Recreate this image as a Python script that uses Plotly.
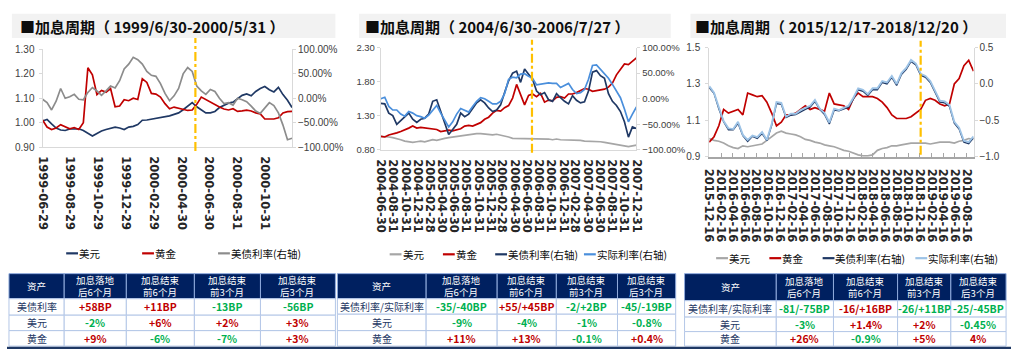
import pandas as pd
import plotly.graph_objects as go

W, H = 1018, 355
def px(x): return x / W
def py(y): return 1 - y / H

NAVY = "#1f3864"; RED = "#c00000"; GRAY = "#8c8c8c"; LGRAY = "#a6a6a6"
BLUE = "#4a8fdc"; LBLUE = "#9dc3e6"; ORANGE = "#ffc000"; AX = "#d9d9d9"
TGREEN = "#00b050"; TRED = "#c00000"
CJK = "Noto Sans CJK SC"

# ---------------- Panel 1: 1999/6/30-2000/5/31 ----------------
p1_dates = pd.date_range("1999-06-29", periods=56, freq="10D")
p1_usd = [1.007,1.013,0.995,0.978,0.970,0.968,0.974,0.976,0.975,0.968,
          0.957,0.945,0.956,0.966,0.972,0.978,0.982,0.978,0.972,0.982,
          0.985,0.992,1.010,1.011,1.014,1.018,1.023,1.026,1.028,1.034,
          1.040,1.053,1.068,1.082,1.065,1.052,1.040,1.040,1.046,1.062,
          1.070,1.080,1.084,1.098,1.112,1.118,1.110,1.128,1.140,1.148,
          1.135,1.126,1.145,1.115,1.092,1.062]
p1_gold = [1.011,0.982,0.972,0.978,0.992,0.985,0.975,0.980,0.972,1.000,
           1.225,1.196,1.115,1.132,1.125,1.140,1.065,1.068,1.094,1.090,
           1.100,1.095,1.180,1.165,1.120,1.117,1.105,1.078,1.057,1.064,
           1.060,1.055,1.050,1.052,1.075,1.105,1.095,1.084,1.072,1.064,
           1.056,1.052,1.057,1.046,1.048,1.051,1.048,1.040,1.036,1.015,
           1.015,1.015,1.020,1.040,1.045,1.046]
p1_rate = [-0.02,-0.09,-0.24,-0.06,0.20,0.00,0.03,0.08,-0.02,-0.03,
           0.12,0.22,0.15,0.06,0.15,0.25,0.21,0.36,0.60,0.70,
           0.84,0.79,0.70,0.55,0.47,0.45,0.30,0.10,-0.05,0.05,
           0.20,0.50,0.63,0.55,0.25,0.15,0.08,0.18,0.14,0.00,
           -0.11,-0.09,-0.14,0.00,-0.03,-0.07,-0.16,-0.26,-0.31,-0.20,
           -0.09,-0.15,-0.30,-0.55,-0.85,-0.82]
p1_ticks = ["1999-06-29","1999-08-29","1999-10-29","1999-12-29","2000-02-29",
            "2000-04-30","2000-06-30","2000-08-31","2000-10-31"]
p1_end = "2000-05-31"

# ---------------- Panel 2: 2004/6/30-2006/7/27 ----------------
p2_dates = pd.date_range("2004-06-30", periods=65, freq="20D")
p2_usd = [1.00,1.00,0.99,0.98,0.97,0.95,0.93,0.92,0.91,0.92,
          0.93,0.92,0.93,0.95,0.94,0.96,0.97,0.98,0.99,0.99,
          1.00,1.01,1.02,1.03,1.04,1.04,1.03,1.03,1.02,1.03,
          1.02,1.01,0.99,0.97,0.97,0.96,0.97,0.97,0.96,0.97,
          0.97,0.96,0.96,0.95,0.96,0.95,0.95,0.94,0.95,0.94,
          0.94,0.93,0.93,0.92,0.92,0.92,0.91,0.90,0.90,0.89,
          0.88,0.86,0.85,0.86,0.87]
p2_gold = [1.00,0.99,1.02,1.03,1.05,1.07,1.09,1.12,1.15,1.12,
           1.13,1.12,1.11,1.10,1.10,1.07,1.08,1.09,1.08,1.10,
           1.11,1.15,1.16,1.15,1.17,1.20,1.25,1.28,1.34,1.38,
           1.37,1.42,1.45,1.56,1.76,1.60,1.46,1.60,1.62,1.58,
           1.63,1.50,1.53,1.52,1.57,1.58,1.56,1.62,1.62,1.64,
           1.67,1.70,1.69,1.66,1.67,1.68,1.69,1.72,1.78,1.90,
           1.98,2.06,2.05,2.10,2.15]
p2_rate = [-0.09,-0.10,-0.28,-0.33,-0.50,-0.42,-0.36,-0.28,-0.40,-0.46,
           -0.40,-0.38,-0.30,-0.05,-0.02,-0.25,-0.50,-0.70,-0.60,-0.50,
           -0.28,-0.35,-0.30,-0.20,-0.08,-0.02,-0.08,-0.18,-0.25,-0.22,
           -0.12,0.12,0.35,0.50,0.54,0.32,0.58,0.48,0.38,0.15,
           0.08,0.12,-0.02,-0.05,0.10,0.02,-0.05,-0.10,0.06,-0.03,
           -0.08,-0.06,0.15,0.52,0.55,0.45,0.40,0.10,-0.05,-0.13,
           -0.25,-0.45,-0.75,-0.55,-0.58]
p2_real = [0.00,0.03,-0.15,-0.22,-0.22,-0.30,-0.34,-0.25,-0.28,-0.33,
           -0.35,-0.38,-0.32,-0.22,-0.13,-0.28,-0.42,-0.55,-0.45,-0.30,
           -0.19,-0.22,-0.26,-0.15,-0.05,0.02,0.00,-0.05,-0.10,-0.10,
           -0.05,0.10,0.38,0.42,0.41,0.48,0.49,0.44,0.40,0.27,
           0.28,0.30,0.31,0.30,0.30,0.22,0.26,0.30,0.18,0.10,
           0.12,0.18,0.38,0.65,0.66,0.58,0.50,0.40,0.28,0.15,
           0.02,-0.20,-0.45,-0.30,-0.16]
p2_ticks = ["2004-06-30","2004-08-31","2004-10-31","2004-12-31","2005-02-28",
            "2005-04-30","2005-06-30","2005-08-31","2005-10-31","2005-12-31",
            "2006-02-28","2006-04-30","2006-06-30","2006-08-31","2006-10-31",
            "2006-12-31","2007-02-28","2007-04-30","2007-06-30","2007-08-31",
            "2007-10-31","2007-12-31"]
p2_end = "2006-07-27"

# ---------------- Panel 3: 2015/12/17-2018/12/20 ----------------
p3_dates = pd.date_range("2015-12-16", periods=56, freq="25D")
p3_usd = [1.00,0.99,0.985,0.975,0.96,0.95,0.945,0.96,0.955,0.96,
          0.965,0.97,0.99,1.01,1.03,1.04,1.03,1.025,1.02,1.01,
          0.995,0.99,0.98,0.975,0.965,0.96,0.955,0.945,0.935,0.93,
          0.92,0.91,0.905,0.905,0.91,0.935,0.945,0.95,0.96,0.96,
          0.965,0.97,0.975,0.975,0.975,0.975,0.97,0.975,0.98,0.98,
          0.98,0.975,0.985,0.99,1.00,0.995]
p3_gold = [0.98,1.01,1.07,1.16,1.14,1.15,1.16,1.13,1.25,1.24,
           1.23,1.235,1.20,1.14,1.07,1.09,1.13,1.13,1.14,1.16,
           1.18,1.16,1.17,1.16,1.15,1.25,1.19,1.185,1.18,1.16,
           1.22,1.25,1.23,1.23,1.23,1.22,1.20,1.17,1.13,1.11,
           1.11,1.11,1.12,1.14,1.16,1.21,1.22,1.21,1.19,1.18,
           1.19,1.30,1.33,1.40,1.43,1.37]
p3_rate = [-0.05,-0.13,-0.34,-0.52,-0.63,-0.63,-0.54,-0.71,-0.79,-0.72,
           -0.75,-0.68,-0.78,-0.57,-0.27,-0.28,-0.46,-0.43,-0.42,-0.38,
           -0.35,-0.32,-0.24,-0.35,-0.42,-0.55,-0.36,-0.37,-0.35,-0.32,
           -0.21,-0.08,-0.10,-0.16,-0.08,-0.08,0.02,0.00,0.09,-0.02,
           0.13,0.20,0.31,0.26,0.12,0.09,0.02,-0.11,-0.25,-0.26,
           -0.31,-0.54,-0.62,-0.80,-0.82,-0.74]
p3_real = [-0.03,-0.12,-0.32,-0.51,-0.61,-0.62,-0.52,-0.70,-0.77,-0.71,
           -0.73,-0.66,-0.77,-0.55,-0.25,-0.26,-0.45,-0.41,-0.41,-0.36,
           -0.33,-0.30,-0.22,-0.34,-0.40,-0.53,-0.34,-0.36,-0.33,-0.30,
           -0.19,-0.06,-0.08,-0.14,-0.06,-0.06,0.04,0.02,0.11,0.00,
           0.15,0.22,0.33,0.28,0.14,0.11,0.04,-0.09,-0.23,-0.24,
           -0.29,-0.52,-0.60,-0.78,-0.80,-0.72]
p3_ticks = ["2015-12-16","2016-02-16","2016-04-16","2016-06-16","2016-08-16",
            "2016-10-16","2016-12-16","2017-02-16","2017-04-16","2017-06-16",
            "2017-08-16","2017-10-16","2017-12-16","2018-02-16","2018-04-16",
            "2018-06-16","2018-08-16","2018-10-16","2018-12-16","2019-02-16",
            "2019-04-16","2019-06-16","2019-08-16"]
p3_end = "2018-12-20"

titles = ["■加息周期（ 1999/6/30-2000/5/31 ）",
          "■加息周期（ 2004/6/30-2006/7/27 ）",
          "■加息周期（ 2015/12/17-2018/12/20 ）"]

# ---------------- Tables ----------------
t_header = ["资产", "加息落地<br>后6个月", "加息结束<br>前6个月", "加息结束<br>前3个月", "加息结束<br>后3个月"]
t1_rows = ["美债利率", "美元", "黄金"]
t1_vals = [["+58BP", "-2%", "+9%"], ["+11BP", "+6%", "-6%"],
           ["-13BP", "+2%", "-7%"], ["-56BP", "+3%", "+3%"]]
t1_sign = [["R", "G", "R"], ["R", "R", "G"], ["G", "R", "G"], ["G", "R", "R"]]
t2_rows = ["美债利率/实际利率", "美元", "黄金"]
t2_vals = [["-35/-40BP", "-9%", "+11%"], ["+55/+45BP", "-4%", "+13%"],
           ["-2/+2BP", "-1%", "-0.1%"], ["-45/-19BP", "-0.8%", "+0.4%"]]
t2_sign = [["G", "G", "R"], ["R", "G", "R"], ["G", "G", "G"], ["G", "G", "R"]]
t3_rows = ["美债利率/实际利率", "美元", "黄金"]
t3_vals = [["-81/-75BP", "-3%", "+26%"], ["-16/+16BP", "+1.4%", "-0.9%"],
           ["-26/+11BP", "+2%", "+5%"], ["-25/-45BP", "-0.45%", "4%"]]
t3_sign = [["G", "G", "R"], ["R", "R", "G"], ["G", "R", "R"], ["G", "G", "R"]]

fig = go.Figure()

def line(x, y, xa, ya, color, width=1.7):
    fig.add_trace(go.Scatter(x=x, y=y, xaxis=xa, yaxis=ya, mode="lines",
                             line=dict(color=color, width=width), showlegend=False,
                             hoverinfo="skip"))

line(p1_dates, p1_usd, "x", "y", NAVY)
line(p1_dates, p1_gold, "x", "y", RED)
line(p1_dates, p1_rate, "x", "y2", GRAY)

line(p2_dates, p2_usd, "x2", "y3", LGRAY)
line(p2_dates, p2_gold, "x2", "y3", RED)
line(p2_dates, p2_rate, "x2", "y4", NAVY)
line(p2_dates, p2_real, "x2", "y4", BLUE)

line(p3_dates, p3_usd, "x3", "y5", LGRAY)
line(p3_dates, p3_gold, "x3", "y5", RED)
line(p3_dates, p3_rate, "x3", "y6", NAVY, 1.4)
line(p3_dates, p3_real, "x3", "y6", LBLUE, 1.9)

YF = "Liberation Sans, Arial, sans-serif"
def yfont(size): return dict(family=YF, size=size, color="#404040")
xfont = dict(family="DejaVu Sans", size=11.5, color="#262626", weight="bold")

def yax(domain, rng, vals, fmt, size, **kw):
    d = dict(range=rng, tickvals=vals, tickformat=fmt, showline=True, linecolor=AX,
             ticks="outside", ticklen=3, tickcolor=AX, showgrid=False, zeroline=False,
             tickfont=yfont(size), fixedrange=True)
    if domain is not None:
        d["domain"] = domain
    d.update(kw)
    return d

def xax(domain, rng, tickdates, anchor, **kw):
    d = dict(domain=domain, range=rng, type="date", tickvals=tickdates, ticktext=tickdates,
             tickangle=90, showline=True, linecolor=AX, ticks="", showgrid=False,
             zeroline=False, tickfont=xfont, anchor=anchor, fixedrange=True,
             ticklabelstandoff=6)
    d.update(kw)
    return d

layout = dict(
    width=W, height=H, margin=dict(l=0, r=0, t=0, b=0),
    paper_bgcolor="white", plot_bgcolor="white", showlegend=False,
    xaxis=xax([px(36), px(289)], ["1999-06-29", "2000-12-30"], p1_ticks, "y"),
    yaxis=yax([py(146), py(45)], [0.9, 1.3], [0.9, 1.0, 1.1, 1.2, 1.3], ".2f", 10,
              anchor="x", ticklabelstandoff=2),
    yaxis2=yax(None, [-1, 1], [-1, -0.5, 0, 0.5, 1], ".2%", 10, overlaying="y",
               side="right", anchor="x", ticklabelstandoff=0),
    xaxis2=xax([px(379), px(638)], ["2004-06-30", "2007-12-31"], p2_ticks, "y3"),
    yaxis3=yax([py(149), py(43)], [0.8, 2.3], [0.8, 1.3, 1.8, 2.3], ".2f", 9.5,
               anchor="x2", ticklabelstandoff=0),
    yaxis4=yax(None, [-1, 1], [-1, -0.5, 0, 0.5, 1], ".2%", 9.5, overlaying="y3",
               side="right", anchor="x2", ticklabelstandoff=0),
    xaxis3=xax([px(712), px(980)], ["2015-12-16", "2019-09-21"], p3_ticks, "y5",
               ticks="inside", ticklen=4, tickcolor="#a6a6a6", linecolor="#a6a6a6",
               linewidth=1.5, ticklabelstandoff=8),
    yaxis5=yax([py(156), py(43)], [0.9, 1.5], [0.9, 1.1, 1.3, 1.5], ".1f", 10,
               anchor="x3", ticklabelstandoff=3),
    yaxis6=yax(None, [-1, 0.5], [-1, -0.5, 0, 0.5], ".1f", 10, overlaying="y5",
               side="right", anchor="x3", ticklabelstandoff=0),
)
fig.update_layout(**layout)

shapes = []
annotations = []

def rect(x0, x1, y0, y1, fill, lc, lw=1, layer="above"):
    shapes.append(dict(type="rect", xref="paper", yref="paper", x0=px(x0), x1=px(x1),
                       y0=py(y1), y1=py(y0), fillcolor=fill,
                       line=dict(color=lc, width=lw), layer=layer))

def text(x, y, s, size, color, xanchor="center", width=None, family=CJK, pad=1):
    a = dict(xref="paper", yref="paper", x=px(x), y=py(y), xanchor=xanchor,
             yanchor="middle", text=s, showarrow=False, borderpad=pad,
             font=dict(family=family, size=size, color=color))
    if width is not None:
        a["width"] = width
        a["align"] = "left"
    annotations.append(a)

# title boxes (text centred on the reference text span)
for (x0, x1, tc), title in zip([(5, 333, 147.5), (357, 673, 496.5), (693, 1013, 840.5)], titles):
    rect(x0, x1, 8, 33, "#f2f2f2", "#f2f2f2", 0, "below")
    text(tc, 21, f"<b>{title}</b>", 15, "#0d0d0d")

# end-of-hike dashed markers
for xa, d, ytop, ybot in [("x", p1_end, 33, 150), ("x2", p2_end, 35, 152), ("x3", p3_end, 36, 154)]:
    shapes.append(dict(type="line", xref=xa, yref="paper", x0=d, x1=d,
                       y0=py(ybot), y1=py(ytop), line=dict(color=ORANGE, width=2.2, dash="dashdot")))

# legends
legends = [
    (256, [(60, NAVY, "美元"), (137, RED, "黄金"), (214, GRAY, "美债利率(右轴)")]),
    (257, [(388, LGRAY, "美元"), (442, RED, "黄金"), (495, NAVY, "美债利率(右轴)"), (585, BLUE, "实际利率(右轴)")]),
    (261, [(719, LGRAY, "美元"), (773, RED, "黄金"), (827, NAVY, "美债利率(右轴)"), (921, LBLUE, "实际利率(右轴)")]),
]
for ly, items in legends:
    for lx, col, name in items:
        shapes.append(dict(type="line", xref="paper", yref="paper", x0=px(lx), x1=px(lx + 12),
                           y0=py(ly), y1=py(ly), line=dict(color=col, width=2.2)))
        text(lx + 11, ly, name, 10.5, "#0d0d0d", "left", width=80)

# tables (drawn as cells)
SCOL = {"R": TRED, "G": TGREEN}
def add_table(xe, ye, rows, vals, signs):
    for c in range(5):
        rect(xe[c], xe[c + 1], ye[0], ye[1], "#002060", "#8faadc", 1)
        text((xe[c] + xe[c + 1]) / 2, (ye[0] + ye[1]) / 2 - 0.3, t_header[c], 9.5,
             "white", pad=0)
    for r in range(3):
        for c in range(5):
            rect(xe[c], xe[c + 1], ye[r + 1], ye[r + 2], "white", "#b4c7e7", 1)
            if c == 0:
                s, col = rows[r], NAVY
            else:
                s, col = f"<b>{vals[c - 1][r]}</b>", SCOL[signs[c - 1][r]]
            text((xe[c] + xe[c + 1]) / 2, (ye[r + 1] + ye[r + 2]) / 2, s,
                 10 if c == 0 else 10.5, col, pad=0)

add_table([2, 58, 121, 190, 257, 333], [277, 303, 320, 336, 352], t1_rows, t1_vals, t1_sign)
add_table([335, 425, 497, 557, 619, 678], [277, 303, 319, 336, 352], t2_rows, t2_vals, t2_sign)
add_table([687, 780, 838, 903, 957, 1013], [277, 305, 322, 337, 352], t3_rows, t3_vals, t3_sign)

# bottom frame line
rect(0, W, 352.8, 355, "#1f3864", "#1f3864", 0)

fig.update_layout(shapes=shapes, annotations=annotations)
fig.write_html("out.html", config={"displayModeBar": False},
               post_script="document.body.style.margin='0px';document.body.style.padding='0px';")
